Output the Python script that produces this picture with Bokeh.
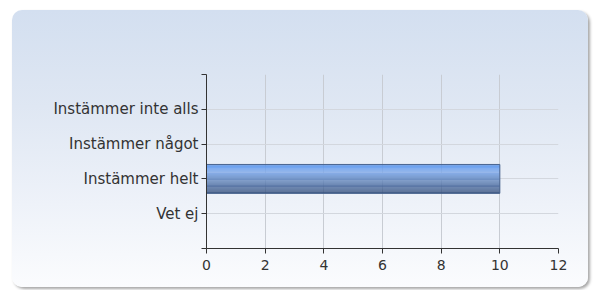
from bokeh.plotting import figure
from bokeh.models import Range1d, FixedTicker
from bokeh.embed import file_html
from bokeh.resources import INLINE

categories = ["Vet ej", "Instämmer helt", "Instämmer något", "Instämmer inte alls"]
values = [0, 10, 0, 0]
x_ticks = [0, 2, 4, 6, 8, 10, 12]

positions = list(range(1, len(categories) + 1))

p = figure(width=576, height=277, output_backend="svg", toolbar_location=None,
           x_range=Range1d(0, 12), y_range=Range1d(0, 5),
           min_border_left=194, min_border_right=30, min_border_top=64, min_border_bottom=39)
p.styles = {
    "background": "linear-gradient(to bottom, #d3dff0 0%, #dfe7f3 35%, #eef2f9 70%, #fbfcfe 100%)",
    "border-radius": "10px",
    "box-shadow": "2px 2px 3px rgba(0,0,0,0.35)",
    "margin": "10px 0px 0px 12px",
}
p.border_fill_color = None
p.background_fill_color = None
p.outline_line_color = None

# gradient bar via slices
stops = [(0.0, (77, 127, 208)), (0.07, (91, 151, 240)), (0.3, (134, 172, 230)),
         (0.45, (123, 157, 208)), (0.75, (74, 106, 158)), (1.0, (42, 70, 116))]
def col(t):
    for (t0, c0), (t1, c1) in zip(stops[:-1], stops[1:]):
        if t0 <= t <= t1:
            f = (t - t0) / (t1 - t0) if t1 > t0 else 0
            return "#%02x%02x%02x" % tuple(int(round(a + (b - a) * f)) for a, b in zip(c0, c1))
    return "#%02x%02x%02x" % stops[-1][1]

bar_h = 0.83
n = 30
for i in range(n):
    t = (i + 0.5) / n
    yc = [pos + bar_h / 2 - (i + 0.5) * bar_h / n for pos in positions]
    p.hbar(y=yc, right=values, left=0, height=bar_h / n + 0.002,
           fill_color=col(t), line_color=None)
p.hbar(y=positions, right=values, left=0, height=bar_h, fill_color=None,
       line_color="#4a6590", line_width=1)

p.xaxis.ticker = FixedTicker(ticks=x_ticks)
p.yaxis.ticker = FixedTicker(ticks=[0] + positions + [5])
p.yaxis.major_label_overrides = {0: "", 5: "", **{pos: c for pos, c in zip(positions, categories)}}

for ax in (p.xaxis, p.yaxis):
    ax.axis_line_color = "#333333"
    ax.major_tick_line_color = "#333333"
    ax.major_tick_in = 0
    ax.major_tick_out = 5
    ax.minor_tick_line_color = None
    ax.major_label_text_font = "DejaVu Sans"
    ax.major_label_text_color = "#333333"
p.xaxis.major_label_text_font_size = "14px"
p.xaxis.major_label_standoff = 6
p.yaxis.major_label_text_font_size = "15px"
p.yaxis.major_label_standoff = 3

p.xgrid.grid_line_color = "#c8ccd3"
p.ygrid.grid_line_color = "#d3d7de"
p.ygrid.ticker = FixedTicker(ticks=positions + [5])

open("out.html", "w").write(file_html(p, INLINE))
